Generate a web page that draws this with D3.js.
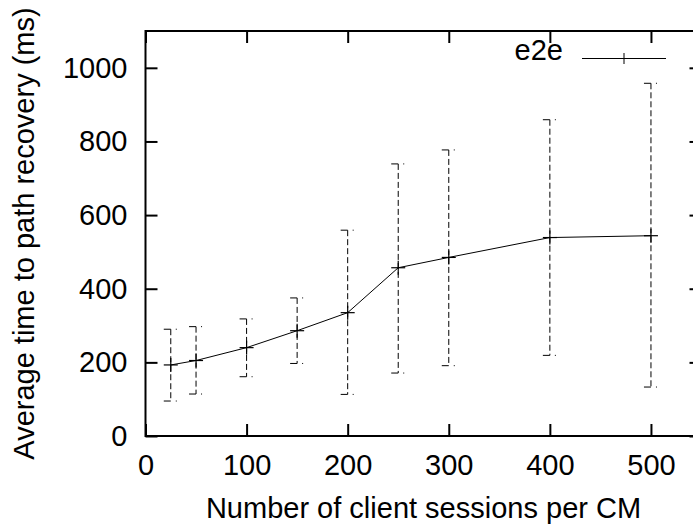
<!DOCTYPE html>
<html>
<head>
<meta charset="utf-8">
<script src="https://cdn.jsdelivr.net/npm/d3@7"></script>
<style>
  html, body { margin: 0; padding: 0; background: #fff; }
  svg { display: block; font-family: "Liberation Sans", Arial, Helvetica, sans-serif; }
</style>
</head>
<body>
<svg id="chart" width="693" height="524"></svg>
<script>
// Client sessions per CM and recovery time statistics (ms)
const sessions = [25, 50, 100, 150, 200, 250, 300, 400, 500];
const meanTime = [193, 205, 240, 286, 335, 457, 485, 539, 544];
const lowTime  = [95, 114, 161, 197, 113, 171, 191, 219, 133];
const highTime = [290, 297, 318, 375, 559, 739, 777, 859, 958];
const xTicks = [0, 100, 200, 300, 400, 500];
const yTicks = [0, 200, 400, 600, 800, 1000];
const seriesName = "e2e";

const svg = d3.select("#chart");
const plotL = 145.5, plotR = 701.5, plotT = 31, plotB = 436;
const fontSize = 29;

const x = d3.scaleLinear().domain([0, 550]).range([plotL, plotR]);
const y = d3.scaleLinear().domain([0, 1100]).range([plotB, plotT]);

const pts = sessions.map((s, i) => ({ s, m: meanTime[i], lo: lowTime[i], hi: highTime[i] }));

// axes with inward ticks on all four sides
function styleAxis(g, showText) {
  g.selectAll(".domain").remove();
  g.selectAll(".tick line").attr("stroke", "#000").attr("stroke-width", 2);
  g.selectAll(".tick text")
    .attr("fill", "#000")
    .attr("font-size", fontSize)
    .attr("font-family", "Liberation Sans, Arial, sans-serif");
  if (!showText) g.selectAll(".tick text").remove();
}

svg.append("g").attr("transform", `translate(0,${plotB})`)
  .call(d3.axisBottom(x).tickValues(xTicks).tickFormat(d3.format("d")).tickSizeInner(-12).tickSizeOuter(0).tickPadding(18))
  .call(g => styleAxis(g, true));
svg.append("g").attr("transform", `translate(0,${plotT})`)
  .call(d3.axisTop(x).tickValues(xTicks).tickSizeInner(-12).tickSizeOuter(0))
  .call(g => styleAxis(g, false));
svg.append("g").attr("transform", `translate(${plotL},0)`)
  .call(d3.axisLeft(y).tickValues(yTicks).tickFormat(d3.format("d")).tickSizeInner(-12).tickSizeOuter(0).tickPadding(18))
  .call(g => styleAxis(g, true));
svg.append("g").attr("transform", `translate(${plotR},0)`)
  .call(d3.axisRight(y).tickValues(yTicks).tickSizeInner(-12).tickSizeOuter(0))
  .call(g => styleAxis(g, false));

// plot border
svg.append("rect")
  .attr("x", plotL).attr("y", plotT)
  .attr("width", plotR - plotL).attr("height", plotB - plotT)
  .attr("fill", "none").attr("stroke", "#000").attr("stroke-width", 2);

// error bars (dashed) with caps
const eb = svg.append("g").attr("stroke", "#000").attr("stroke-width", 1).attr("fill", "none");
eb.selectAll("line.bar").data(pts).join("line").attr("class", "bar")
  .attr("x1", d => x(d.s)).attr("x2", d => x(d.s))
  .attr("y1", d => y(d.hi)).attr("y2", d => y(d.lo))
  .attr("stroke-dasharray", "6,3");
["hi", "lo"].forEach(k => {
  eb.selectAll("line.cap-" + k).data(pts).join("line").attr("class", "cap-" + k)
    .attr("x1", d => x(d.s) - 7).attr("x2", d => x(d.s) + 7)
    .attr("y1", d => y(d[k])).attr("y2", d => y(d[k]))
    .attr("stroke-dasharray", "7,5,1,20");
});

// mean line
svg.append("path").datum(pts)
  .attr("fill", "none").attr("stroke", "#000").attr("stroke-width", 1)
  .attr("d", d3.line().x(d => x(d.s)).y(d => y(d.m)));

// point markers (+)
const mk = svg.append("g").attr("stroke", "#000").attr("stroke-width", 1.2);
mk.selectAll("line.h").data(pts).join("line").attr("class", "h")
  .attr("x1", d => x(d.s) - 7).attr("x2", d => x(d.s) + 7)
  .attr("y1", d => y(d.m)).attr("y2", d => y(d.m));
mk.selectAll("line.v").data(pts).join("line").attr("class", "v")
  .attr("x1", d => x(d.s)).attr("x2", d => x(d.s))
  .attr("y1", d => y(d.m) - 7).attr("y2", d => y(d.m) + 7);

// legend
const lg = svg.append("g");
lg.append("text").attr("x", 563).attr("y", 60).attr("text-anchor", "end")
  .attr("font-size", fontSize).text(seriesName);
lg.append("line").attr("x1", 582).attr("x2", 666).attr("y1", 58.5).attr("y2", 58.5)
  .attr("stroke", "#000").attr("stroke-width", 1);
lg.append("line").attr("x1", 624).attr("x2", 624).attr("y1", 53).attr("y2", 64)
  .attr("stroke", "#000").attr("stroke-width", 1);

// axis titles
svg.append("text").attr("x", (plotL + plotR) / 2).attr("y", 518)
  .attr("text-anchor", "middle").attr("font-size", fontSize)
  .text("Number of client sessions per CM");
svg.append("text")
  .attr("transform", `translate(34,${(plotT + plotB) / 2}) rotate(-90)`)
  .attr("text-anchor", "middle").attr("font-size", fontSize)
  .text("Average time to path recovery (ms)");
</script>
</body>
</html>
